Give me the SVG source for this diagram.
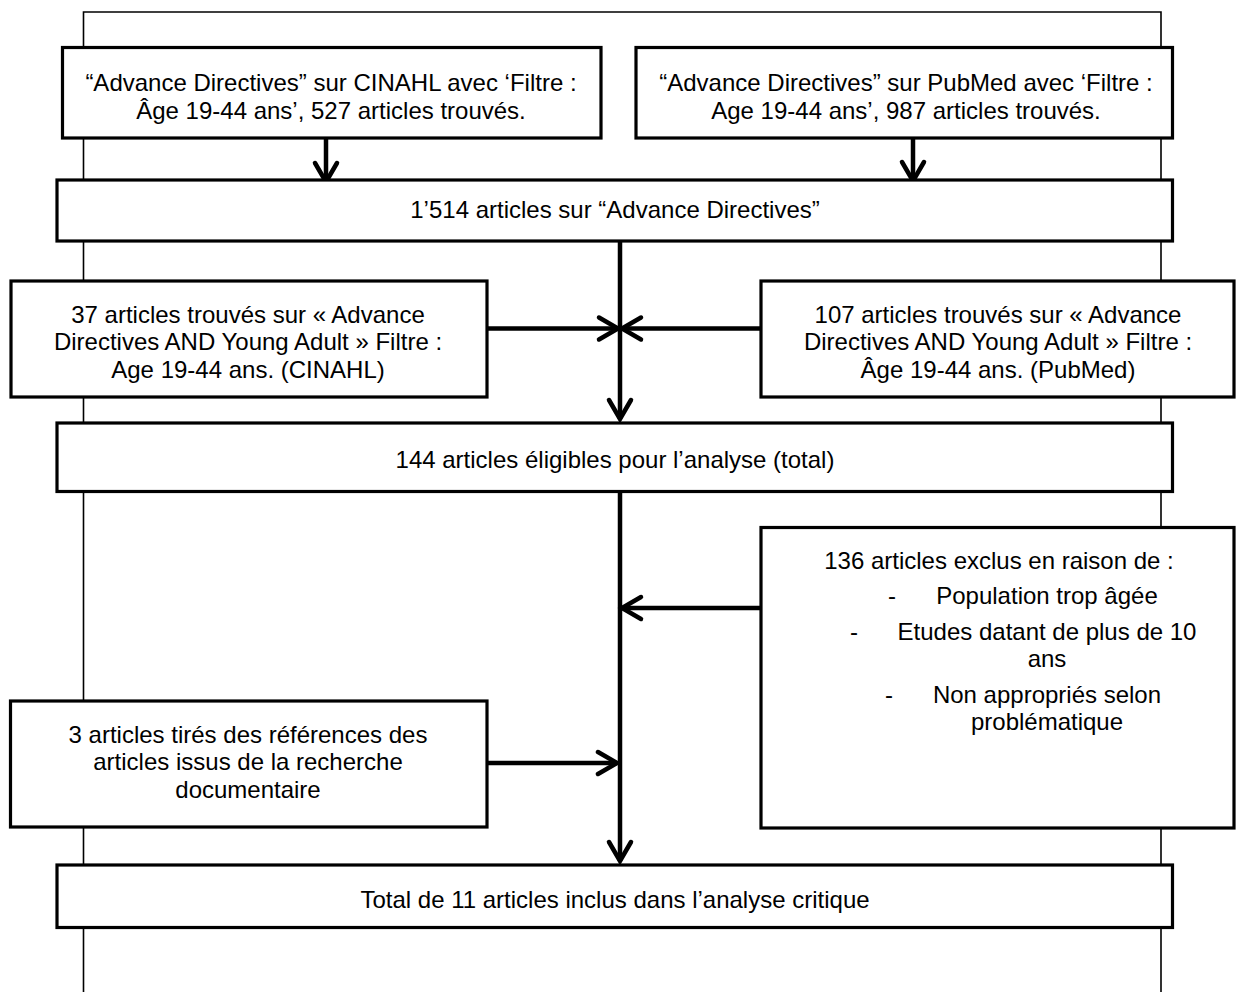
<svg xmlns="http://www.w3.org/2000/svg" width="1236" height="992" viewBox="0 0 1236 992">
<style>
.frame{fill:none;stroke:#000;stroke-width:1.6}
.box{fill:#fff;stroke:#000;stroke-width:3.2}
.t{font-family:"Liberation Sans",Arial,sans-serif;font-size:24px;fill:#000;text-anchor:middle}
.d{text-anchor:start}
.c{fill:none;stroke:#000;stroke-width:4.5}
</style>
<defs>
<marker id="ah" markerUnits="userSpaceOnUse" viewBox="-26 -16 30 32" markerWidth="30" markerHeight="32" refX="0" refY="0" orient="auto" overflow="visible">
<path d="M-19,-11 L0,0 L-19,11" fill="none" stroke="#000" stroke-width="4.5" stroke-linecap="round" stroke-linejoin="miter"/>
</marker>
</defs>
<rect width="1236" height="992" fill="#fff"/>
<path class="frame" d="M83.5,992 V12 H1161 V992"/>
<g id="connectors">
<line class="c" x1="326" y1="138" x2="326" y2="182" marker-end="url(#ah)"/>
<line class="c" x1="913" y1="138" x2="913" y2="181" marker-end="url(#ah)"/>
<line class="c" x1="620" y1="241" x2="620" y2="419" marker-end="url(#ah)"/>
<line class="c" x1="487" y1="328.5" x2="618" y2="328.5" marker-end="url(#ah)"/>
<line class="c" x1="761" y1="328.5" x2="622" y2="328.5" marker-end="url(#ah)"/>
<line class="c" x1="620" y1="491" x2="620" y2="861" marker-end="url(#ah)"/>
<line class="c" x1="761" y1="608" x2="622" y2="608" marker-end="url(#ah)"/>
<line class="c" x1="487" y1="763" x2="617" y2="763" marker-end="url(#ah)"/>
</g>
<g id="n-cinahl">
<rect class="box" x="62.5" y="47.5" width="538.5" height="90.5"/>
<text class="t" x="331" y="91">“Advance Directives” sur CINAHL avec ‘Filtre :</text>
<text class="t" x="331" y="119">Âge 19-44 ans’, 527 articles trouvés.</text>
</g>
<g id="n-pubmed">
<rect class="box" x="636" y="47.5" width="536.5" height="90.5"/>
<text class="t" x="906" y="91">“Advance Directives” sur PubMed avec ‘Filtre :</text>
<text class="t" x="906" y="119">Age 19-44 ans’, 987 articles trouvés.</text>
</g>
<g id="n-1514">
<rect class="box" x="57" y="180" width="1115.5" height="61"/>
<text class="t" x="615" y="218">1’514 articles sur “Advance Directives”</text>
</g>
<g id="n-37">
<rect class="box" x="11" y="281" width="476" height="116"/>
<text class="t" x="248" y="322.5">37 articles trouvés sur « Advance</text>
<text class="t" x="248" y="350">Directives AND Young Adult » Filtre :</text>
<text class="t" x="248" y="377.5">Age 19-44 ans. (CINAHL)</text>
</g>
<g id="n-107">
<rect class="box" x="761" y="281" width="473" height="116"/>
<text class="t" x="998" y="322.5">107 articles trouvés sur « Advance</text>
<text class="t" x="998" y="350">Directives AND Young Adult » Filtre :</text>
<text class="t" x="998" y="377.5">Âge 19-44 ans. (PubMed)</text>
</g>
<g id="n-144">
<rect class="box" x="57" y="423" width="1115.5" height="68.5"/>
<text class="t" x="615" y="468">144 articles éligibles pour l’analyse (total)</text>
</g>
<g id="n-exclus">
<rect class="box" x="761" y="527.5" width="473" height="300.5"/>
<text class="t" x="999" y="569">136 articles exclus en raison de :</text>
<text class="t d" x="888" y="604">-</text>
<text class="t" x="1047" y="604">Population trop âgée</text>
<text class="t d" x="850" y="639.5">-</text>
<text class="t" x="1047" y="639.5">Etudes datant de plus de 10</text>
<text class="t" x="1047" y="667">ans</text>
<text class="t d" x="885" y="703">-</text>
<text class="t" x="1047" y="703">Non appropriés selon</text>
<text class="t" x="1047" y="730">problématique</text>
</g>
<g id="n-3articles">
<rect class="box" x="10.5" y="701" width="476.5" height="126"/>
<text class="t" x="248" y="743">3 articles tirés des références des</text>
<text class="t" x="248" y="770">articles issus de la recherche</text>
<text class="t" x="248" y="798">documentaire</text>
</g>
<g id="n-total">
<rect class="box" x="57" y="865" width="1115.5" height="62.5"/>
<text class="t" x="615" y="907.5">Total de 11 articles inclus dans l’analyse critique</text>
</g>
</svg>
